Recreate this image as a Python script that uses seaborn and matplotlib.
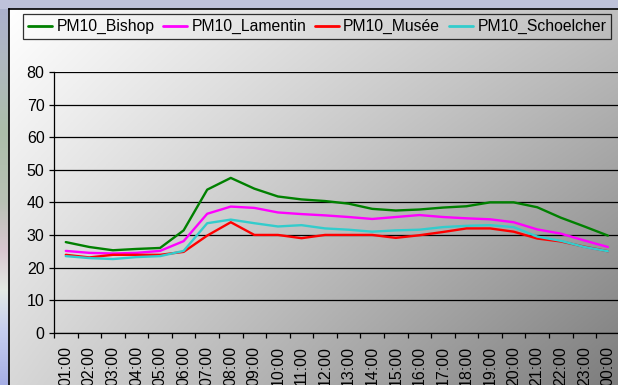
import numpy as np
import pandas as pd
import matplotlib
matplotlib.use("Agg")
import matplotlib.pyplot as plt
from matplotlib.lines import Line2D
import seaborn as sns

# Hourly PM10 averages per station
hours = ["01:00", "02:00", "03:00", "04:00", "05:00", "06:00", "07:00", "08:00",
         "09:00", "10:00", "11:00", "12:00", "13:00", "14:00", "15:00", "16:00",
         "17:00", "18:00", "19:00", "20:00", "21:00", "22:00", "23:00", "00:00"]
stations = ["PM10_Bishop", "PM10_Lamentin", "PM10_Musée", "PM10_Schoelcher"]
bishop = [27.8, 26.3, 25.3, 25.7, 26.0, 31.4, 43.9, 47.5, 44.2, 41.8, 40.9, 40.4,
          39.6, 38.0, 37.5, 37.8, 38.4, 38.8, 40.0, 40.0, 38.5, 35.3, 32.6, 29.8]
lamentin = [25.1, 24.5, 24.3, 24.5, 25.1, 28.1, 36.5, 38.7, 38.3, 36.9, 36.4, 36.0,
            35.5, 34.9, 35.5, 36.1, 35.5, 35.1, 34.8, 33.9, 31.7, 30.4, 28.3, 26.3]
musee = [23.9, 23.1, 23.9, 23.9, 23.9, 24.8, 29.8, 33.9, 30.0, 30.0, 29.0, 30.0,
         30.0, 30.0, 29.1, 29.9, 30.9, 32.0, 32.0, 31.0, 28.9, 28.0, 26.4, 25.0]
schoelcher = [23.5, 22.9, 22.6, 23.2, 23.5, 25.1, 33.6, 34.7, 33.6, 32.6, 33.0, 32.0,
              31.6, 31.0, 31.4, 31.6, 32.4, 32.8, 33.0, 32.4, 29.5, 28.2, 26.3, 25.0]
colors = ["#008000", "#FF00FF", "#FF0000", "#33CCCC"]
yticks = [0, 10, 20, 30, 40, 50, 60, 70, 80]

df = pd.DataFrame({
    "hour": hours * 4,
    "value": bishop + lamentin + musee + schoelcher,
    "station": [s for s in stations for _ in hours],
})

sns.set_theme(style="white")
plt.rcParams["font.family"] = ["Liberation Sans", "DejaVu Sans"]
plt.rcParams["text.color"] = "black"

W, H = 618, 385
fig = plt.figure(figsize=(W / 100, H / 100), dpi=100)

# Backdrop behind the chart frame
bg = fig.add_axes([0, 0, 1, 1])
stops_y = np.array([0, 60, 130, 200, 250, 290, 330, 385]) / H
stops_c = np.array([
    [170, 176, 206], [176, 184, 192], [172, 190, 170], [184, 194, 180],
    [216, 198, 208], [228, 234, 228], [198, 206, 240], [166, 174, 228],
]) / 255
yy = np.linspace(0, 1, H)
col = np.stack([np.interp(yy, stops_y, stops_c[:, k]) for k in range(3)], axis=1)
img = np.repeat(col[:, None, :], 40, axis=1)
img[:9, :, :] = np.array([190, 194, 218]) / 255
bg.imshow(img, extent=[0, W, H, 0], aspect="auto")
bg.set_xlim(0, W)
bg.set_ylim(H, 0)
bg.axis("off")

# Chart area with diagonal grey gradient
ca = fig.add_axes([9 / W, 0, 1 - 9 / W, (H - 9) / H])
u = np.linspace(0, 1, 400)[None, :]
w = np.linspace(0, 1, 300)[:, None]
v = (255 - 63 * u - 39 * w - 28 * u * w) / 255
ca.imshow(np.dstack([v, v, v]), extent=[0, 1, 1, 0], aspect="auto")
ca.set_xlim(0, 1)
ca.set_ylim(1, 0)
ca.set_xticks([])
ca.set_yticks([])
for side in ["right", "bottom"]:
    ca.spines[side].set_visible(False)
for side in ["left", "top"]:
    ca.spines[side].set_color("black")
    ca.spines[side].set_linewidth(1.2)

# Plot area
ax = fig.add_axes([54 / W, (H - 332.7) / H, 565.7 / W, (332.7 - 72) / H])
ax.patch.set_alpha(0)
sns.lineplot(data=df, x="hour", y="value", hue="station", hue_order=stations,
             palette=colors, linewidth=1.7, sort=False, legend=False, ax=ax)

ax.set_xlim(-0.5, 23.5)
ax.set_ylim(0, 80)
ax.set_yticks(yticks)
ax.set_yticklabels([str(t) for t in yticks])
ax.yaxis.grid(True, color="black", linewidth=0.9)
ax.xaxis.grid(False)
ax.set_axisbelow(True)
ax.set_xticks(np.arange(-0.5, 24, 1.0))
ax.set_xticklabels([""] * 25)
ax.set_xticks(np.arange(0, 24), labels=hours, minor=True)
ax.tick_params(axis="x", which="major", length=3.4, width=0.9, color="black",
               direction="out", bottom=True)
ax.tick_params(axis="x", which="minor", length=0, pad=9.8, labelsize=11.5,
               labelrotation=90, labelcolor="black")
ax.tick_params(axis="y", length=3.4, width=0.9, color="black", direction="out",
               left=True, pad=3.4, labelsize=11.5, labelcolor="black")
ax.set_xlabel("")
ax.set_ylabel("")
for side in ["top", "right"]:
    ax.spines[side].set_visible(False)
for side in ["left", "bottom"]:
    ax.spines[side].set_color("black")
    ax.spines[side].set_linewidth(0.9)

handles = [Line2D([], [], color=c, linewidth=2) for c in colors]
leg = fig.legend(handles, stations, loc="upper left",
                 bbox_to_anchor=(22.7 / W, 1 - 14 / H), ncol=4, fontsize=11.3,
                 handlelength=1.56, handletextpad=0.25, columnspacing=0.55,
                 borderpad=0.33, borderaxespad=0, fancybox=False, frameon=True)
leg.get_frame().set_edgecolor("black")
leg.get_frame().set_linewidth(0.9)
leg.get_frame().set_facecolor("none")

fig.savefig("out.png", dpi=100)
